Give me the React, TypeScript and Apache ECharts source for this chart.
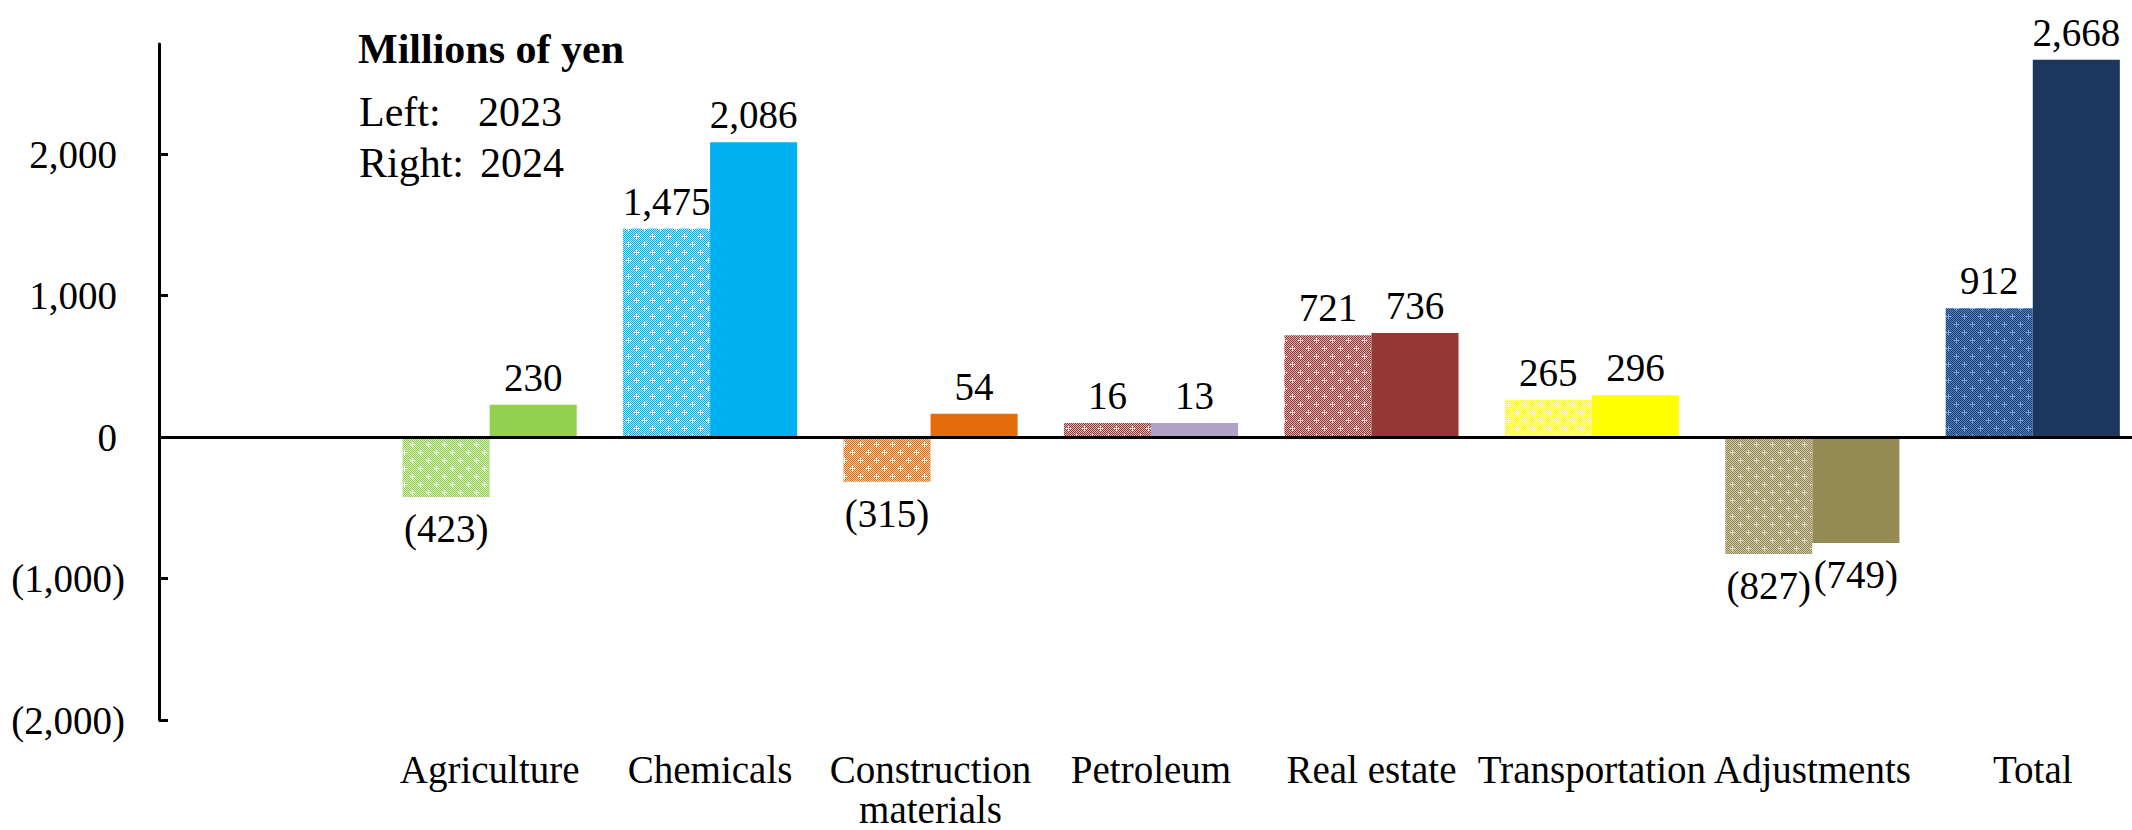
import React, { useEffect, useRef } from "react";
import * as echarts from "echarts";

// ---- data ----
const categories = ["", "Agriculture", "Chemicals", "Construction materials", "Petroleum", "Real estate", "Transportation", "Adjustments", "Total"];
// printed values
const labels2023 = [null, -423, 1475, -315, 16, 721, 265, -827, 912];
const labels2024 = [null, 230, 2086, 54, 13, 736, 296, -749, 2668];
// bar heights as drawn (Construction 2024 and Petroleum bars are drawn taller than printed)
const bars2023 = [null, -423, 1475, -315, 100, 721, 265, -827, 912];
const bars2024 = [null, 230, 2086, 165, 100, 736, 296, -749, 2668];
const yTicks = [-2000, -1000, 0, 1000, 2000];
const yMin = -2000;
const yMax = 2780;

// ---- styles ----
const solidColors = ["#000", "#92D050", "#00B0F0", "#E46C0A", "#B3A2C7", "#953735", "#FFFF00", "#948A54", "#1B375E"];
const patBase = ["#000", "#92D050", "#00B0F0", "#E46C0A", "#953735", "#953735", "#FFFF00", "#948A54", "#1F3F70"];
const patLight = ["#fff", "#D4EDB9", "#B3E8FB", "#F8D1B2", "#DDB5B4", "#D9ADAC", "#FFFFB3", "#CCC6A8", "#4F81BD"];
const patCross = ["#fff", "#FFFFFF", "#FFFFFF", "#FFFFFF", "#F0D8D8", "#F0D0D0", "#FFFFFF", "#E0DCC4", "#7AA5E8"];

const FONT = '"Liberation Serif", "Times New Roman", serif';

function makePattern(base: string, light: string, cross: string) {
  const c = document.createElement("canvas");
  c.width = 16;
  c.height = 16;
  const ctx = c.getContext("2d")!;
  for (let y = 0; y < 16; y++) {
    for (let x = 0; x < 16; x++) {
      ctx.fillStyle = (x + y) % 2 ? light : base;
      ctx.fillRect(x, y, 1, 1);
    }
  }
  ctx.fillStyle = cross;
  for (const [cx, cy] of [[4, 4], [12, 12]]) {
    ctx.fillRect(cx - 2, cy, 5, 1);
    ctx.fillRect(cx, cy - 2, 1, 5);
  }
  return { image: c, repeat: "repeat" };
}

function fmtNum(n: number) {
  const s = Math.abs(n).toLocaleString("en-US");
  return n < 0 ? `(${s})` : s;
}

export default function App() {
  const ref = useRef<HTMLDivElement>(null);
  useEffect(() => {
    document.body.style.margin = "0";
    const chart = echarts.init(ref.current!, null, { renderer: "svg" });

    const labelBase = {
      show: true,
      color: "#000",
      fontSize: 39,
      lineHeight: 39,
      fontFamily: FONT,
    };

    const data2023 = bars2023.map((v, i) =>
      v == null
        ? null
        : {
            value: v,
            itemStyle: { color: makePattern(patBase[i], patLight[i], patCross[i]) as any },
            label: { position: v < 0 ? "bottom" : "top", distance: v < 0 ? 12 : 8 },
          }
    );
    const data2024 = bars2024.map((v, i) =>
      v == null
        ? null
        : {
            value: v,
            itemStyle: { color: solidColors[i] },
            label: { position: v < 0 ? "bottom" : "top", distance: v < 0 ? 12 : 8 },
          }
    );

    chart.setOption({
      animation: false,
      grid: { left: 159, right: -11, top: 44, bottom: 110, outerBoundsMode: "none" },
      xAxis: {
        type: "category",
        data: categories,
        axisLine: { show: false, onZero: false },
        axisTick: { show: false },
        axisLabel: {
          interval: 0,
          color: "#000",
          fontSize: 39,
          lineHeight: 40,
          fontFamily: FONT,
          margin: 29,
          formatter: (v: string) => (v === "Construction materials" ? "Construction\nmaterials" : v),
        },
      },
      yAxis: {
        type: "value",
        min: yMin,
        max: yMax,
        splitLine: { show: false },
        axisLine: { show: true, lineStyle: { color: "#000", width: 3 } },
        axisTick: { show: true, inside: true, length: 9, lineStyle: { color: "#000", width: 3 }, customValues: yTicks },
        axisLabel: {
          customValues: yTicks,
          margin: 34,
          color: "#000",
          fontSize: 39,
          fontFamily: FONT,
          formatter: (v: number) => (v < 0 ? `{n|${fmtNum(v)}}` : `{p|${fmtNum(v)}}`),
          rich: {
            p: { fontSize: 39, fontFamily: FONT, color: "#000", padding: [0, 8, 0, 0] },
            n: { fontSize: 39, fontFamily: FONT, color: "#000" },
          },
        },
      },
      series: [
        {
          type: "bar",
          name: "2023",
          barGap: "0%",
          barCategoryGap: "21%",
          data: data2023,
          label: { ...labelBase, formatter: (p: any) => fmtNum(labels2023[p.dataIndex] as number) },
        },
        {
          type: "bar",
          name: "2024",
          barGap: "0%",
          barCategoryGap: "21%",
          data: data2024,
          label: { ...labelBase, formatter: (p: any) => fmtNum(labels2024[p.dataIndex] as number) },
          markLine: {
            silent: true,
            symbol: ["none", "none"],
            label: { show: false },
            lineStyle: { color: "#000", width: 3, type: "solid" },
            data: [{ yAxis: 0 }],
          },
        },
      ],
      graphic: [
        { type: "text", x: 358, y: 49, style: { text: "Millions of yen", fontSize: 42, fontWeight: "bold", fontFamily: FONT, fill: "#000", verticalAlign: "middle" } },
        { type: "text", x: 359, y: 112, style: { text: "Left:", fontSize: 42, fontFamily: FONT, fill: "#000", verticalAlign: "middle" } },
        { type: "text", x: 478, y: 112, style: { text: "2023", fontSize: 42, fontFamily: FONT, fill: "#000", verticalAlign: "middle" } },
        { type: "text", x: 359, y: 163, style: { text: "Right:", fontSize: 42, fontFamily: FONT, fill: "#000", verticalAlign: "middle" } },
        { type: "text", x: 480, y: 163, style: { text: "2024", fontSize: 42, fontFamily: FONT, fill: "#000", verticalAlign: "middle" } },
      ],
    });
    return () => chart.dispose();
  }, []);
  return <div ref={ref} style={{ width: 2132, height: 830 }} />;
}
